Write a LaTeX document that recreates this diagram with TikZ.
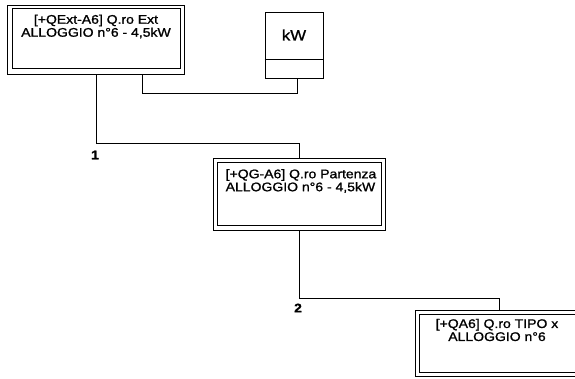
\documentclass[tikz,border=0pt]{standalone}
\usepackage{fontspec}
\newfontfamily\diagfont[FakeStretch=1.12,FakeBold=1.2]{Liberation Sans}
\usetikzlibrary{calc}
\begin{document}
\begin{tikzpicture}[x=1pt,y=-1pt,
  outerbox/.style={draw, line width=1pt, rectangle, inner sep=0pt},
  innerline/.style={draw, line width=1pt},
  wire/.style={draw, line width=1pt},
  boxtext/.style={font=\diagfont\fontsize{12.5}{13}\selectfont, inner sep=0pt},
  numlabel/.style={font=\diagfont\bfseries\fontsize{12.5}{13}\selectfont, inner sep=0pt}
]
\useasboundingbox (0,0) rectangle (575,378);
\clip (0,0) rectangle (575,378);
% Box 1
\node[outerbox, minimum width=177pt, minimum height=69pt] (b1) at (95.5,39.5) {};
\draw[innerline] ([xshift=6pt,yshift=-4pt]b1.north west) rectangle ([xshift=-4pt,yshift=6pt]b1.south east);
\node[boxtext, align=center] (t1) at (96,26.5) {[+QExt-A6] Q.ro Ext\\ALLOGGIO n°6 - 4,5kW};
% kW box
\node[outerbox, minimum width=58pt, minimum height=66pt] (kw) at (294,45) {};
\draw[innerline] ([yshift=19pt]kw.south west) -- ([yshift=19pt]kw.south east);
\node[boxtext, font=\diagfont\fontsize{15}{16}\selectfont] (tkw) at (294,35) {kW};
% Box 2
\node[outerbox, minimum width=172pt, minimum height=72pt] (b2) at (299,194) {};
\draw[innerline] ([xshift=5pt,yshift=-5pt]b2.north west) rectangle ([xshift=-4pt,yshift=5pt]b2.south east);
\node[boxtext, align=left, anchor=west] (t2) at (225.5,181) {[+QG-A6] Q.ro Partenza\\ALLOGGIO n°6 - 4,5kW};
% Box 3
\node[outerbox, minimum width=170pt, minimum height=66pt] (b3) at (500,343) {};
\draw[innerline] ([xshift=5pt,yshift=-5pt]b3.north west) rectangle ([xshift=-4pt,yshift=4pt]b3.south east);
\node[boxtext, align=center] (t3) at (497,330) {[+QA6] Q.ro TIPO x\\ALLOGGIO n°6};
% connectors
\draw[wire] ([xshift=90pt]b1.south west) -- ++(0,69) -| (b2.north);
\draw[wire] ([xshift=136pt]b1.south west) -- ++(0,19) -| ([xshift=3pt]kw.south);
\draw[wire] (b2.south) -- ++(0,68) -| ([xshift=-1pt]b3.north);
% labels
\node[numlabel] (l1) at (95,155) {1};
\node[numlabel] (l2) at (298,308) {2};
\end{tikzpicture}
\end{document}
